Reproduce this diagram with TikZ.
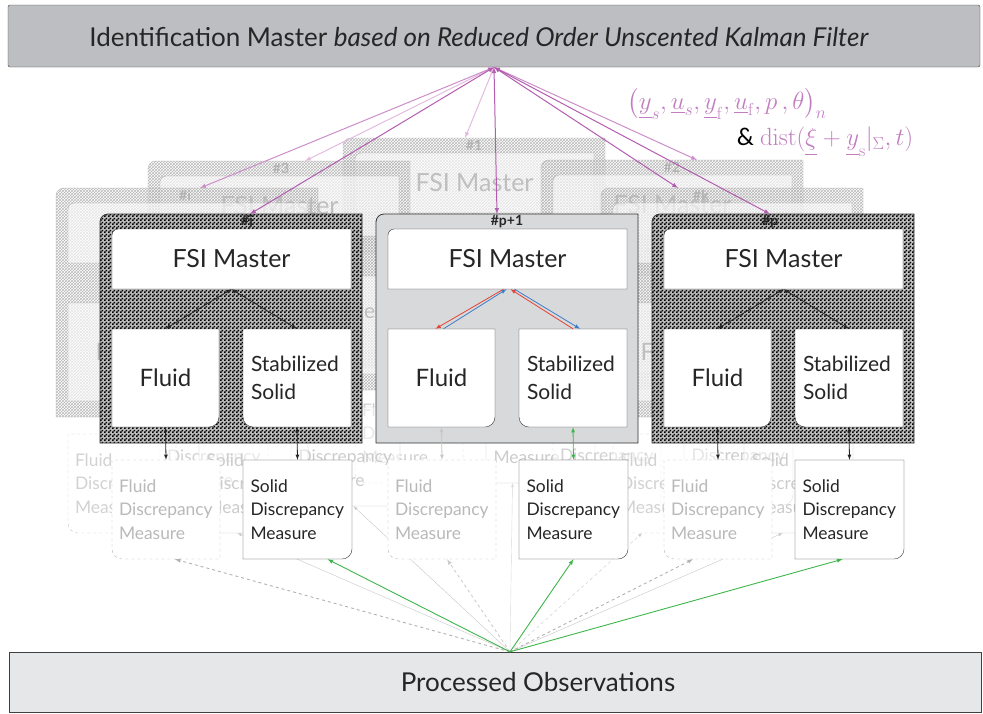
\documentclass[tikz,border=0pt]{standalone}
\usepackage{amsmath}
\usepackage{exscale}
\usepackage[no-math]{fontspec}
\setmainfont{Lato}
\usepackage{tikz}
\usetikzlibrary{patterns}

\definecolor{topgray}{HTML}{BDBEC2}
\definecolor{botgray}{HTML}{E6E7E9}
\definecolor{midgray}{HTML}{D8D9DB}
\definecolor{plum}{HTML}{B35DB0}
\definecolor{orchid}{HTML}{CC8DC9}
\definecolor{lilac}{HTML}{E2BBDF}
\definecolor{eqpink}{HTML}{C27DC0}
\definecolor{exred}{HTML}{E8412F}
\definecolor{exblue}{HTML}{3A7DC9}
\definecolor{obsgreen}{HTML}{3DB54A}

\pgfdeclarepatternformonly{checker}{\pgfqpoint{0pt}{0pt}}{\pgfqpoint{4pt}{4pt}}{\pgfqpoint{4pt}{4pt}}{%
	\pgfpathrectangle{\pgfqpoint{0pt}{0pt}}{\pgfqpoint{2pt}{2pt}}%
	\pgfpathrectangle{\pgfqpoint{2pt}{2pt}}{\pgfqpoint{2pt}{2pt}}%
	\pgfusepath{fill}}

% one FSI unit: name, x, y, label, label x, arrow x
\newcommand\fsiunit[6]{%
	\begin{scope}[shift={(#2,#3)}]
		\path[rim] (0,229) [rounded corners=8pt] -- (0,0) [sharp corners] -- (262,0) -- (262,229) -- cycle;
		\path[inbox] (12,75) [rounded corners=6pt] -- (12,15) [sharp corners] -- (251,15) -- (251,75) -- cycle;
		\path[inbox] (12,115) -- (119,115) [rounded corners=10pt] -- (119,213) [sharp corners] -- (12,213) -- cycle;
		\path[inbox] (251,115) -- (143,115) [rounded corners=10pt] -- (143,213) [sharp corners] -- (251,213) -- cycle;
		\path[fdm] (120,246) -- (12,246) [rounded corners=10pt] -- (12,345) [sharp corners] -- (120,345) -- cycle;
		\path[sdm] (143,246) -- (252,246) [rounded corners=10pt] -- (252,345) [sharp corners] -- (143,345) -- cycle;
		\node (#1-lab) at (#5,7.5) [unitlabel] {#4};
		\coordinate (#1-top) at (#6,0);
		\node (#1-m) at (131.5,45) [mastertext] {FSI Master};
		\node (#1-f) at (65.5,164) [fluidtext] {Fluid};
		\node (#1-s) at (197,164) [solidtext] {Stabilized\\Solid};
		\node (#1-fd) at (66,295.5) [fdmtext] {Fluid\\Discrepancy\\Measure};
		\node (#1-sd) at (197.5,295.5) [sdmtext] {Solid\\Discrepancy\\Measure};
		\draw[inarrow] (#1-m.south) -- (#1-f.north);
		\draw[inarrow] (#1-m.south) -- (#1-s.north);
		\draw[fdmarrow] (#1-f.south) -- (#1-fd.north);
		\draw[sdmarrow] (#1-s.south) -- (#1-sd.north);
	\end{scope}}

\begin{document}
\begin{tikzpicture} [x = 1pt, y = -1pt,
		ink/.style = {}, dmink/.style = {}, sdmink/.style = {}, labink/.style = {},
		bar/.style = {draw = black!75, minimum width = 972pt, minimum height = 62pt, inner sep = 0pt},
		bartext/.style = {font = \fontsize{26}{30}\selectfont, text = black!85},
		unitlabel/.style = {labink, font = \bfseries\fontsize{14}{15}\selectfont, inner sep = 0pt},
		mastertext/.style = {ink, font = \fontsize{25}{29}\selectfont, minimum width = 239pt, minimum height = 60pt, inner sep = 0pt},
		fluidtext/.style = {ink, font = \fontsize{24}{28}\selectfont, minimum width = 107pt, minimum height = 98pt, inner sep = 0pt},
		solidtext/.style = {ink, font = \fontsize{21}{28}\selectfont, text width = 92pt, align = left,
			minimum height = 98pt, inner xsep = 8pt, inner ysep = 0pt},
		fdmtext/.style = {dmink, font = \fontsize{17.4}{23.5}\selectfont, text width = 94pt, align = left,
			minimum height = 99pt, inner xsep = 7pt, inner ysep = 0pt},
		sdmtext/.style = {fdmtext, sdmink},
		ghostunit/.style = {
			rim/.style = {draw = gray!60, pattern = crosshatch, pattern color = gray!55},
			inbox/.style = {draw = gray!60, fill = white, fill opacity = 0.6},
			fdm/.style = {draw = gray!45, dashed, fill = white, fill opacity = 0.5},
			sdm/.style = {draw = gray!50, fill = white, fill opacity = 0.5},
			ink/.style = {text = gray!50}, dmink/.style = {text = gray!35},
			sdmink/.style = {text = gray!40}, labink/.style = {text = gray!60},
			inarrow/.style = {gray!50, latex-latex},
			fdmarrow/.style = {gray!40, latex-latex},
			sdmarrow/.style = {gray!45, latex-latex}},
		darkunit/.style = {
			rim/.style = {draw = black!80, thick, preaction = {fill = gray!60, fill opacity = 0.85},
				pattern = checker, pattern color = black},
			inbox/.style = {draw = black!80, fill = white},
			fdm/.style = {draw = gray!60, dashed, fill = white},
			sdm/.style = {draw = black!80, fill = white},
			ink/.style = {text = black!85}, dmink/.style = {text = gray!55},
			sdmink/.style = {text = black!85}, labink/.style = {text = black!85},
			inarrow/.style = {black!85, thick, latex-latex},
			fdmarrow/.style = {black!85, thick, latex-latex},
			sdmarrow/.style = {black!85, thick, latex-latex}},
		grayunit/.style = {darkunit,
			rim/.style = {draw = black!80, thick, fill = midgray},
			inarrow/.style = {draw = none},
			fdmarrow/.style = {gray!45, thick, latex-latex},
			sdmarrow/.style = {obsgreen, thick, latex-latex}},
		toparrow/.style = {latex-latex, line width = 1pt},
		ghostobs/.style = {-latex, gray!45},
		obsarrow/.style = {-latex, obsgreen, line width = 0.9pt},
		fluidobs/.style = {-latex, gray!60, dashed, line width = 0.9pt},
		formula/.style = {text = eqpink, font = \fontsize{24}{28}\selectfont, inner sep = 0pt}]

	\useasboundingbox (0,0) rectangle (983,713);

	\node (ident) at (494,36) [bar, fill = topgray, rounded corners = 2pt] {};
	\node (ident-txt) at (479,37) [bartext] {Identification Master \textit{based on Reduced Order Unscented Kalman Filter}};
	\node (obs) at (495,682) [bar, fill = botgray, minimum height = 60pt] {};
	\node (obs-txt) at (538,682) [bartext] {Processed Observations};
	\coordinate (obs-hub) at ([xshift = 15pt]obs.north);

	% units in the back
	\begin{scope}[ghostunit]
		\fsiunit{g1}{343}{138}{\#1}{131}{122}
		\fsiunit{g3}{148}{161}{\#3}{133}{157}
		\fsiunit{g2}{541}{160}{\#2}{131}{156}
		\fsiunit{gi}{56}{188}{\#i}{129}{144}
		\fsiunit{gk}{601}{188}{\#k}{100}{77}
	\end{scope}

	\draw[ghostobs] (obs-hub) -- ([xshift = -16pt]gi-sd.south);
	\draw[ghostobs] (obs-hub) -- ([xshift = 8pt]g3-sd.south);
	\draw[ghostobs, gray!30] (obs-hub) -- ([xshift = -28pt]g1-sd.south);
	\draw[ghostobs, dashed] (obs-hub) -- ([xshift = -25pt]gk-fd.south);
	\draw[ghostobs] (obs-hub) -- ([xshift = -16pt]gk-sd.south);

	% units in front
	\begin{scope}[darkunit]
		\fsiunit{j}{100}{214}{\#j}{147}{150}
		\fsiunit{p}{652}{214}{\#p}{118}{118}
	\end{scope}
	\begin{scope}[grayunit]
		\fsiunit{c}{376}{214}{\#p+1}{131}{121}
	\end{scope}

	\draw[-latex, exred, thick] ([xshift = -4pt]c-m.south) -- ([xshift = -6pt]c-f.north);
	\draw[-latex, exblue, thick] ([xshift = 2pt]c-f.north) -- ([xshift = -1pt]c-m.south);
	\draw[-latex, exred, thick] (c-s.north) -- ([xshift = 3pt]c-m.south);
	\draw[-latex, exblue, thick] ([xshift = 7pt]c-m.south) -- ([xshift = 7pt]c-s.north);

	\draw[fluidobs] (obs-hub) -- ([xshift = 9pt]j-fd.south);
	\draw[fluidobs, gray!40] (obs-hub) -- ([xshift = 5pt]c-fd.south);
	\draw[fluidobs] (obs-hub) -- ([xshift = -25pt]p-fd.south);
	\draw[obsarrow] (obs-hub) -- ([xshift = 30pt]j-sd.south);
	\draw[obsarrow] (obs-hub) -- (c-sd.south);
	\draw[obsarrow] (obs-hub) -- ([xshift = -7pt]p-sd.south);

	\draw[toparrow, lilac] (ident.south) -- (g1-top);
	\draw[toparrow, lilac] (ident.south) -- (g3-top);
	\draw[toparrow, orchid] (ident.south) -- (g2-top);
	\draw[toparrow, orchid] (ident.south) -- (gi-top);
	\draw[toparrow, plum] (ident.south) -- (gk-top);
	\draw[toparrow, plum] (ident.south) -- (j-top);
	\draw[toparrow, plum] (ident.south) -- (c-top);
	\draw[toparrow, plum] (ident.south) -- (p-top);

	\node (state-vec) at (727,104) [formula]
		{$\bigl(\underline{y}_{s},\underline{u}_{s},\underline{y}_{\mathrm{f}},\underline{u}_{\mathrm{f}},p\,,\theta\bigr)_n$};
	\node (dist-fn) at (825,142) [formula]
		{\textcolor{black}{\&} $\mathrm{dist}(\underline{\xi}+\underline{y}_{\mathrm{s}}|_{\Sigma},t)$};

\end{tikzpicture}
\end{document}
